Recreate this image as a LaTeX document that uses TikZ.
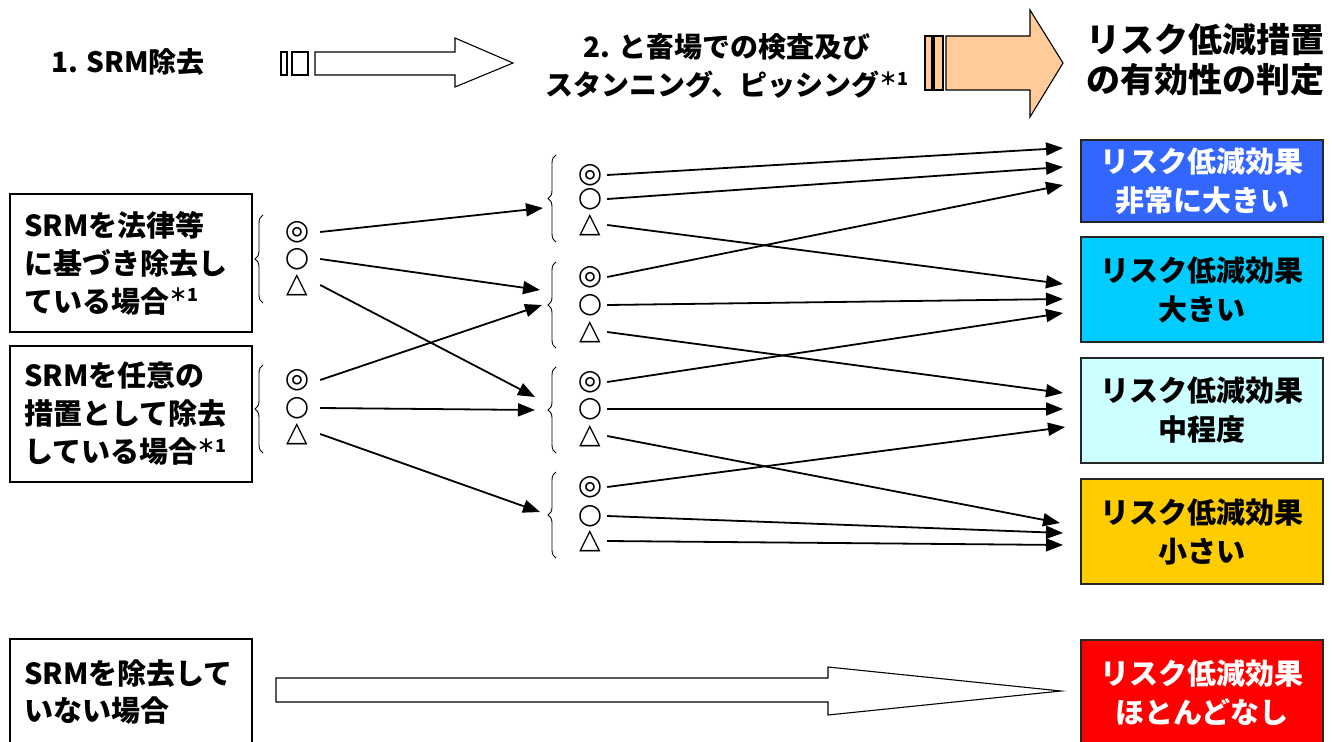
\documentclass[tikz,border=0pt]{standalone}
\usepackage{fontspec}
\setmainfont{Noto Sans CJK JP}
\newfontfamily\symfont{DejaVu Sans}
\usetikzlibrary{arrows.meta,decorations.pathreplacing}
\definecolor{cblue}{HTML}{3366FF}
\definecolor{ccyan}{HTML}{00CCFF}
\definecolor{clcyan}{HTML}{CCFFFF}
\definecolor{cyell}{HTML}{FFCC00}
\definecolor{cred}{HTML}{FF0000}
\definecolor{corange}{HTML}{FFCC99}
\newcommand{\astone}{\raisebox{0.36em}{\fontsize{18}{18}\selectfont ＊1}}
\tikzset{
  lbox/.style={draw=black, line width=1.5pt, minimum width=242pt, text width=214pt, align=left, inner sep=0pt,
    font=\fontsize{29}{38}\selectfont\bfseries},
  rbox/.style={draw=black!85, line width=1.5pt, minimum width=242pt, align=center, inner sep=0pt,
    font=\fontsize{29}{39}\selectfont\bfseries},
  symL/.style={font=\symfont\fontsize{28}{28}\selectfont, inner sep=0pt, minimum width=46pt},
  symM/.style={font=\symfont\fontsize{28}{28}\selectfont, inner sep=0pt, minimum width=34pt},
  conn/.style={line width=1.8pt, -{Triangle[length=17pt,width=13pt]}},
  brc/.style={line width=0.9pt, decorate, decoration={brace, amplitude=8pt}},
  blk/.style={line width=1.1pt, draw=black},
  title/.style={font=\bfseries, align=center, inner sep=0pt}
}
\begin{document}
\begin{tikzpicture}[x=1pt, y=-1pt]
\useasboundingbox (0,0) rectangle (1332,741);
\clip (0,0) rectangle (1332,741);
\fill[white] (0,0) rectangle (1332,741);

% top titles
\node[title, font=\fontsize{28}{34}\selectfont\bfseries] (t1) at (128,62) {1. SRM除去};
\node[title, font=\fontsize{28}{38}\selectfont\bfseries] (t2) at (727,66) {2. と畜場での検査及び\\スタンニング、ピッシング\astone};
\node[title, font=\fontsize{34}{40}\selectfont\bfseries] (t3) at (1205,60) {リスク低減措置\\の有効性の判定};

% hollow arrow 1
\draw[blk] (281,52) rectangle (287,75);
\draw[blk] (292,52) rectangle (308,75);
\draw[blk] (315,52) -- (455,52) -- (455,38) -- (513,63) -- (455,87) -- (455,75) -- (315,75) -- cycle;

% orange arrow 2
\draw[blk, fill=corange] (925,36) rectangle (932,90);
\draw[blk, fill=corange] (934,36) rectangle (943,90);
\draw[blk, fill=corange] (946,36) -- (1030,36) -- (1030,10) -- (1063,63) -- (1030,117) -- (1030,90) -- (946,90) -- cycle;

% left boxes
\node[lbox, minimum height=138pt] (bA) at (131,263) {SRMを法律等\\に基づき除去し\\ている場合\astone};
\node[lbox, minimum height=136pt] (bB) at (131,414) {SRMを任意の\\措置として除去\\している場合\astone};
\node[lbox, minimum height=106pt, font=\fontsize{29}{37}\selectfont\bfseries] (bC) at (131,692) {SRMを除去して\\いない場合};

% right boxes
\node[rbox, fill=cblue, text=white, minimum height=82pt] (R1) at (1202,181) {リスク低減効果\\非常に大きい};
\node[rbox, fill=ccyan, minimum height=105pt] (R2) at (1202,289.5) {リスク低減効果\\大きい};
\node[rbox, fill=clcyan, minimum height=105pt] (R3) at (1202,410.5) {リスク低減効果\\中程度};
\node[rbox, fill=cyell, minimum height=105pt] (R4) at (1202,531.5) {リスク低減効果\\小さい};
\node[rbox, fill=cred, text=white, minimum height=106pt] (R5) at (1202,693) {リスク低減効果\\ほとんどなし};

% bottom hollow arrow
\draw[blk] (276,678) -- (828,678) -- (828,667) -- (1061,691) -- (828,715) -- (828,702) -- (276,702) -- cycle;

% left braces
\draw[brc] (263,303) -- (263,215);
\draw[brc] (263,453) -- (263,365);
% middle braces
\draw[brc] (556,242) -- (556,155);
\draw[brc] (556,348) -- (556,262);
\draw[brc] (556,453) -- (556,367);
\draw[brc] (556,558) -- (556,472);

% left symbols
\node[symL] (a1) at (297,232) {◎};
\node[symL] (a2) at (297,259) {○};
\node[symL] (a3) at (297,285) {△};
\node[symL] (b1) at (297,380) {◎};
\node[symL] (b2) at (297,408) {○};
\node[symL] (b3) at (297,434) {△};

% middle symbols
\node[symM] (m11) at (590,175) {◎};
\node[symM] (m12) at (590,199) {○};
\node[symM] (m13) at (590,225) {△};
\node[symM] (m21) at (590,277) {◎};
\node[symM] (m22) at (590,305) {○};
\node[symM] (m23) at (590,332) {△};
\node[symM] (m31) at (590,382) {◎};
\node[symM] (m32) at (590,409) {○};
\node[symM] (m33) at (590,436) {△};
\node[symM] (m41) at (590,487) {◎};
\node[symM] (m42) at (590,516) {○};
\node[symM] (m43) at (590,541) {△};

% target points
\coordinate (m1in) at (543,208);
\coordinate (m2inA) at (540,290);
\coordinate (m2inB) at (542,305);
\coordinate (m3inA) at (535,397);
\coordinate (m3inB) at (535,410);
\coordinate (m4in) at (540,512);

\coordinate (r1a) at (1063,148);
\coordinate (r1b) at (1063,167);
\coordinate (r1c) at (1063,185);
\coordinate (r2a) at (1063,284);
\coordinate (r2b) at (1063,299);
\coordinate (r2c) at (1063,313);
\coordinate (r3a) at (1063,393);
\coordinate (r3b) at (1063,409);
\coordinate (r3c) at (1065,427);
\coordinate (r4a) at (1060,523);
\coordinate (r4b) at (1063,533);
\coordinate (r4c) at (1063,545);

% left connectors
\draw[conn] (a1.east) -- (m1in);
\draw[conn] (a2.east) -- (m2inA);
\draw[conn] (a3.east) -- (m3inA);
\draw[conn] (b1.east) -- (m2inB);
\draw[conn] (b2.east) -- (m3inB);
\draw[conn] (b3.east) -- (m4in);

% right connectors
\draw[conn] (m11.east) -- (r1a);
\draw[conn] (m12.east) -- (r1b);
\draw[conn] (m13.east) -- (r2a);
\draw[conn] (m21.east) -- (r1c);
\draw[conn] (m22.east) -- (r2b);
\draw[conn] (m23.east) -- (r3a);
\draw[conn] (m31.east) -- (r2c);
\draw[conn] (m32.east) -- (r3b);
\draw[conn] (m33.east) -- (r4a);
\draw[conn] (m41.east) -- (r3c);
\draw[conn] (m42.east) -- (r4b);
\draw[conn] (m43.east) -- (r4c);
\end{tikzpicture}
\end{document}
